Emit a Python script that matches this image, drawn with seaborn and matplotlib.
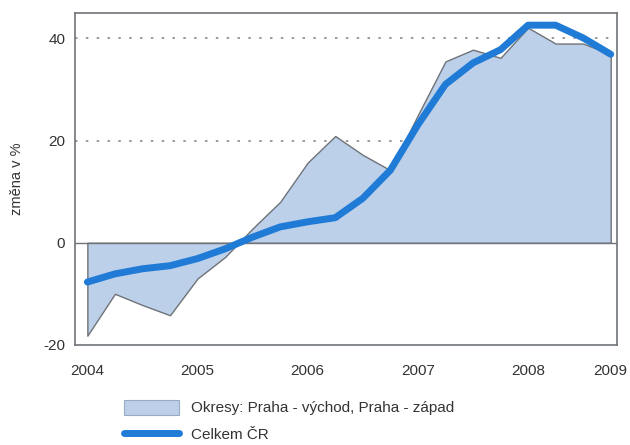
import numpy as np
import pandas as pd
import matplotlib
matplotlib.use("Agg")
import matplotlib.pyplot as plt
import seaborn as sns
from matplotlib.patches import Patch
from matplotlib.lines import Line2D

# quarterly values 2004 Q1 .. 2008 Q4
quarters = list(range(20))
okresy = [-18.2, -10.0, -12.2, -14.2, -7.0, -2.8, 2.8, 8.0, 15.7, 20.9,
          17.2, 14.2, 25.0, 35.5, 37.8, 36.2, 42.1, 39.0, 39.0, 36.9]
celkem = [-7.7, -6.1, -5.1, -4.5, -3.1, -1.2, 1.1, 3.1, 4.1, 4.9,
          8.7, 14.2, 23.1, 31.0, 35.2, 37.8, 42.6, 42.6, 40.1, 36.9]
year_ticks = [0, 4, 8, 12, 16, 19]
year_labels = ["2004", "2005", "2006", "2007", "2008", "2009"]
y_ticks = [-20, 0, 20, 40]

df = pd.DataFrame({"q": quarters, "okresy": okresy, "celkem": celkem})

sns.set_style("white")
plt.rcParams['font.family'] = ['Liberation Sans', 'DejaVu Sans']
plt.rcParams['axes.unicode_minus'] = False

fig = plt.figure(figsize=(6.3, 4.45), dpi=100)
ax = fig.add_axes([0.119, 0.225, 0.86, 0.746])

fill_col = "#bcd0ea"
line_col = "#1f7bd6"

ax.fill_between(df["q"], 0, df["okresy"], color=fill_col, edgecolor="#6f7378", linewidth=1.0, zorder=2)
ax.axhline(0, color="#6f7378", linewidth=1.0, zorder=3)
for yv in [20, 40]:
    ax.axhline(yv, color="#8a8a8a", linestyle=(0, (1.5, 5)), linewidth=1.2, zorder=1)
sns.lineplot(data=df, x="q", y="celkem", ax=ax, color=line_col, linewidth=5, zorder=4)

ax.set_xlim(-0.45, 19.22)
ax.set_ylim(-20, 45)
ax.set_xticks(year_ticks)
ax.set_xticklabels(year_labels)
ax.set_yticks(y_ticks)
ax.tick_params(axis="x", length=0, pad=14, labelsize=11, colors="#333333")
ax.tick_params(axis="y", length=4, width=1, color="#6f7378", labelsize=11, colors="#333333", pad=3)
ax.set_xlabel("")
ax.set_ylabel("změna v %", fontsize=10.5, color="#333333", labelpad=14)
for s in ax.spines.values():
    s.set_color("#6f7378")
    s.set_linewidth(1.2)

handles = [Patch(facecolor=fill_col, edgecolor="#9aaac0", linewidth=0.8),
           Line2D([0], [0], color=line_col, linewidth=5)]
fig.legend(handles, ["Okresy: Praha - východ, Praha - západ", "Celkem ČR"],
           loc="lower left", bbox_to_anchor=(0.175, -0.025), frameon=False,
           fontsize=11, handlelength=3.6, handleheight=1.1, labelspacing=0.75,
           labelcolor="#333333")

fig.savefig("out.png", dpi=100)
